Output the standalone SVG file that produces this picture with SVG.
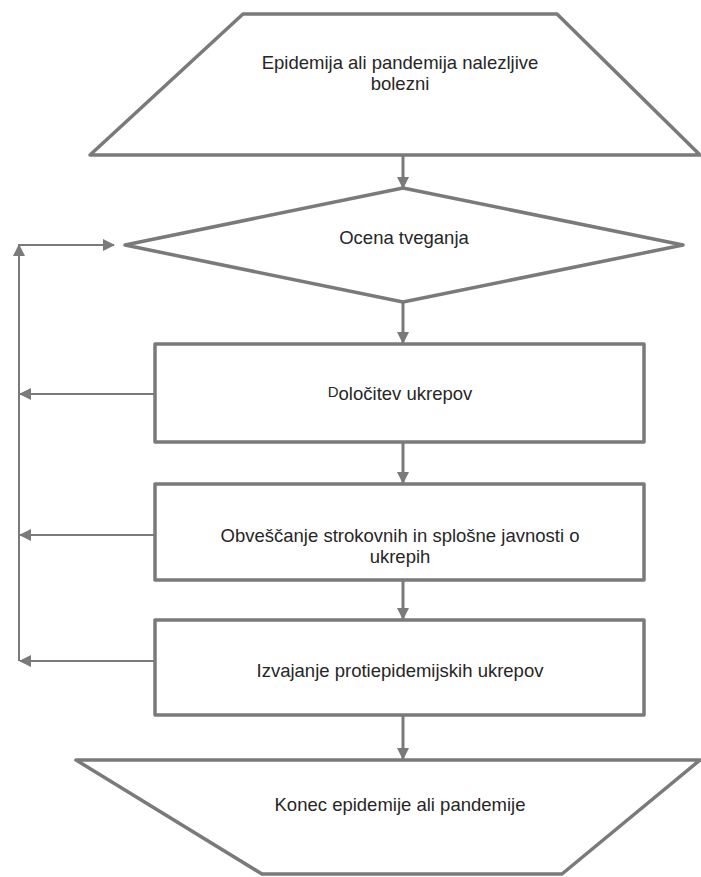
<svg xmlns="http://www.w3.org/2000/svg" width="701" height="877" viewBox="0 0 701 877">
<style>
.shape{fill:#fff;stroke:#7a7a7a;stroke-width:3.5;stroke-linejoin:round}
.main{stroke:#7a7a7a;stroke-width:3;fill:none}
.fb{stroke:#7a7a7a;stroke-width:2;fill:none}
text{font-family:"Liberation Sans",Arial,sans-serif;font-size:18.5px;fill:#262626;text-anchor:middle}
</style>
<defs>
<marker id="ah" markerWidth="12" markerHeight="12" refX="11" refY="6" orient="auto" markerUnits="userSpaceOnUse">
<path d="M0,0 L12,6 L0,12 Z" fill="#7a7a7a"/>
</marker>
</defs>
<rect width="701" height="877" fill="#fff"/>
<g id="start">
<polygon class="shape" points="243,14 557,14 700,155 90,155"/>
<text x="400" y="69">Epidemija ali pandemija nalezljive</text>
<text x="400" y="90">bolezni</text>
</g>
<g id="risk">
<polygon class="shape" points="125,245 403,188 683,245 403,302"/>
<text x="404" y="244">Ocena tveganja</text>
</g>
<g id="measures">
<rect class="shape" x="155" y="344" width="489" height="98"/>
<text x="400" y="400"><tspan font-size="15" dy="-3">D</tspan><tspan dy="3">oločitev ukrepov</tspan></text>
</g>
<g id="inform">
<rect class="shape" x="155" y="484" width="489" height="96"/>
<text x="400" y="542">Obveščanje strokovnih in splošne javnosti o</text>
<text x="400" y="563">ukrepih</text>
</g>
<g id="implement">
<rect class="shape" x="155" y="620" width="489" height="95"/>
<text x="400" y="677">Izvajanje protiepidemijskih ukrepov</text>
</g>
<g id="end">
<polygon class="shape" points="76,760 700,760 562,874 262,874"/>
<text x="400" y="811">Konec epidemije ali pandemije</text>
</g>
<g id="connectors">
<line class="main" x1="403" y1="155" x2="403" y2="188" marker-end="url(#ah)"/>
<line class="main" x1="403" y1="302" x2="403" y2="343" marker-end="url(#ah)"/>
<line class="main" x1="403" y1="442" x2="403" y2="483" marker-end="url(#ah)"/>
<line class="main" x1="403" y1="580" x2="403" y2="619" marker-end="url(#ah)"/>
<line class="main" x1="403" y1="715" x2="403" y2="759" marker-end="url(#ah)"/>
<line class="fb" x1="155" y1="394" x2="20" y2="394" marker-end="url(#ah)"/>
<line class="fb" x1="155" y1="535" x2="20" y2="535" marker-end="url(#ah)"/>
<line class="fb" x1="155" y1="661" x2="20" y2="661" marker-end="url(#ah)"/>
<line class="fb" x1="19" y1="661" x2="19" y2="245" marker-end="url(#ah)"/>
<line class="fb" x1="18" y1="245" x2="114" y2="245" marker-end="url(#ah)"/>
</g>
</svg>
